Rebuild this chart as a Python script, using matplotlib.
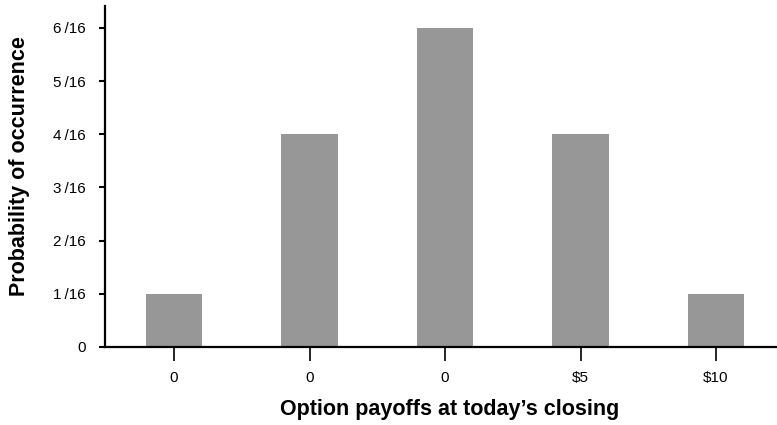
import numpy as np
import matplotlib.pyplot as plt

payoffs = ["0", "0", "0", "$5", "$10"]
counts = [1, 4, 6, 4, 1]
probs = [c / 16 for c in counts]
ytick_vals = [k / 16 for k in range(7)]
ytick_labels = ["0"] + [f"{k}\u2009/16" for k in range(1, 7)]

fig = plt.figure(figsize=(7.77, 4.25), dpi=100)
ax = fig.add_axes([105 / 777, 1 - 347 / 425, 1 - 105 / 777, (347 - 6) / 425])

x = np.arange(len(payoffs))
ax.bar(x, probs, width=0.415, color="#979797")

ax.set_xlim(-0.51, 4.45)
ax.set_ylim(0, 6.41 / 16)
ax.set_xticks(x)
ax.set_xticklabels(payoffs, fontfamily="Liberation Sans", fontsize=11)
ax.set_yticks(ytick_vals)
ax.set_yticklabels(ytick_labels, fontfamily="Liberation Sans", fontsize=11)

for s in ["top", "right"]:
    ax.spines[s].set_visible(False)
for s in ["left", "bottom"]:
    ax.spines[s].set_linewidth(1.6)
ax.tick_params(axis="y", length=4, width=1.5, pad=10)
ax.tick_params(axis="x", length=10, width=1.2, pad=7)

ax.set_xlabel("Option payoffs at today\u2019s closing", fontfamily="Liberation Sans",
              fontweight="bold", fontsize=15.5)
ax.set_ylabel("Probability of occurrence", fontfamily="Liberation Sans",
              fontweight="bold", fontsize=15.5)
ax.xaxis.set_label_coords(0.5127, -0.153)
ax.yaxis.set_label_coords(-0.111, 0.532)

fig.savefig("out.png", dpi=100)
